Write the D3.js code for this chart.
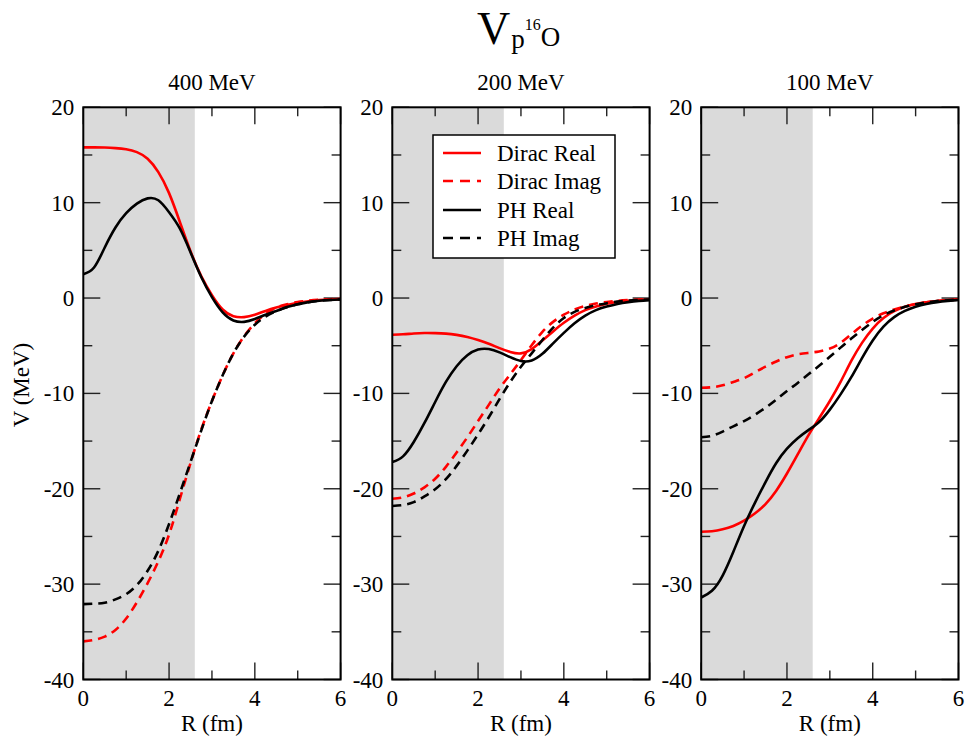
<!DOCTYPE html>
<html>
<head>
<meta charset="utf-8">
<script src="https://cdn.jsdelivr.net/npm/d3@7"></script>
<style>
  html, body { margin: 0; padding: 0; background: #fff; }
  svg text { font-family: "Liberation Serif", "Times New Roman", Times, "DejaVu Serif", serif; }
</style>
</head>
<body>
<svg id="chart" width="969" height="742"></svg>
<script>
// Radial grid (fm) shared by all curves
const R = [0, 0.25, 0.5, 0.75, 1.0, 1.25, 1.5, 1.75, 2.0, 2.25, 2.5, 2.75, 3.0,
           3.25, 3.5, 3.75, 4.0, 4.25, 4.5, 4.75, 5.0, 5.25, 5.5, 5.75, 6.0];

const energies = ["400 MeV", "200 MeV", "100 MeV"];

// 400 MeV
const diracReal400 = [15.8, 15.8, 15.78, 15.72, 15.6, 15.3, 14.6, 13.2, 11.0, 8.0, 4.9, 2.3, 0.3,
                      -1.2, -1.9, -2.0, -1.75, -1.35, -1.0, -0.73, -0.5, -0.33, -0.22, -0.15, -0.1];
const diracImag400 = [-36.0, -35.85, -35.5, -34.8, -33.6, -31.9, -29.9, -27.6, -24.8, -21.1, -17.3, -13.8, -10.8,
                      -8.1, -5.8, -4.0, -2.65, -1.65, -1.0, -0.65, -0.42, -0.28, -0.19, -0.13, -0.09];
const phReal400    = [2.5, 3.2, 5.3, 7.4, 8.9, 9.9, 10.45, 10.25, 9.0, 7.3, 4.8, 2.2, 0.1,
                      -1.5, -2.35, -2.5, -2.2, -1.75, -1.35, -0.95, -0.65, -0.43, -0.29, -0.2, -0.15];
const phImag400    = [-32.1, -32.05, -31.95, -31.6, -31.05, -30.1, -28.6, -26.5, -23.7, -20.5, -17.2, -13.9, -10.8,
                      -8.1, -5.8, -4.05, -2.8, -1.95, -1.38, -0.97, -0.66, -0.44, -0.29, -0.2, -0.15];

// 200 MeV
const diracReal200 = [-3.85, -3.8, -3.72, -3.67, -3.68, -3.73, -3.86, -4.08, -4.4, -4.8, -5.25, -5.65, -5.8,
                      -5.35, -4.45, -3.5, -2.6, -1.85, -1.27, -0.88, -0.6, -0.42, -0.3, -0.21, -0.15];
const diracImag200 = [-21.05, -20.9, -20.5, -19.85, -18.95, -17.7, -16.2, -14.6, -12.9, -11.2, -9.5, -8.0, -6.5,
                      -4.95, -3.55, -2.5, -1.75, -1.2, -0.83, -0.58, -0.42, -0.3, -0.22, -0.16, -0.12];
const phReal200    = [-17.2, -16.6, -15.1, -13.1, -10.9, -8.8, -7.15, -6.0, -5.4, -5.35, -5.7, -6.2, -6.6,
                      -6.55, -5.85, -4.75, -3.65, -2.65, -1.85, -1.27, -0.9, -0.62, -0.43, -0.3, -0.22];
const phImag200    = [-21.8, -21.7, -21.4, -20.8, -20.05, -19.0, -17.6, -16.0, -14.3, -12.5, -10.6, -8.8, -7.2,
                      -5.8, -4.4, -3.1, -2.1, -1.45, -1.05, -0.75, -0.55, -0.38, -0.27, -0.2, -0.15];

// 100 MeV
const diracReal100 = [-24.5, -24.45, -24.25, -23.9, -23.35, -22.6, -21.6, -20.2, -18.4, -16.4, -14.4, -12.6, -10.8,
                      -8.8, -6.6, -4.7, -3.2, -2.1, -1.38, -0.92, -0.63, -0.44, -0.31, -0.22, -0.16];
const diracImag100 = [-9.4, -9.35, -9.15, -8.8, -8.4, -7.8, -7.2, -6.65, -6.2, -5.9, -5.75, -5.6, -5.3,
                      -4.7, -3.8, -2.9, -2.15, -1.6, -1.2, -0.88, -0.63, -0.45, -0.32, -0.22, -0.16];
const phReal100    = [-31.4, -30.7, -29.1, -26.6, -23.9, -21.5, -19.3, -17.3, -15.8, -14.7, -13.85, -13.0, -11.7,
                      -10.1, -8.3, -6.3, -4.45, -3.0, -2.0, -1.35, -0.92, -0.63, -0.43, -0.3, -0.2];
const phImag100    = [-14.6, -14.45, -14.0, -13.45, -12.9, -12.25, -11.5, -10.65, -9.75, -8.9, -8.0, -7.1, -6.15,
                      -5.2, -4.25, -3.35, -2.5, -1.8, -1.3, -0.92, -0.65, -0.46, -0.32, -0.23, -0.17];

// Shaded interior region (fm)
const shadeMax = 2.6;

const seriesNames = ["Dirac Real", "Dirac Imag", "PH Real", "PH Imag"];
const seriesColors = ["#ff0000", "#ff0000", "#000000", "#000000"];
const seriesDashed = [false, true, false, true];

const yMajorTicks = [-40, -30, -20, -10, 0, 10, 20];
const yMinorTicks = [-35, -25, -15, -5, 5, 15];
const xMajorTicks = [0, 2, 4, 6];
const xMinorTicks = [1, 3, 5];

const panelData = [
  [diracReal400, diracImag400, phReal400, phImag400],
  [diracReal200, diracImag200, phReal200, phImag200],
  [diracReal100, diracImag100, phReal100, phImag100]
];

// Layout
const svg = d3.select("#chart");
const panelLefts = [83.3, 392.3, 701.2];
const panelW = 257.3;
const plotTop = 107.3, plotBottom = 679.5;
const fontSerif = "'Liberation Serif', 'Times New Roman', serif";

const y = d3.scaleLinear().domain([-40, 20]).range([plotBottom, plotTop]);

panelData.forEach((series, p) => {
  const x = d3.scaleLinear().domain([0, 6]).range([panelLefts[p], panelLefts[p] + panelW]);
  const g = svg.append("g");

  // shaded region
  g.append("rect")
    .attr("x", x(0)).attr("y", plotTop)
    .attr("width", x(shadeMax) - x(0)).attr("height", plotBottom - plotTop)
    .attr("fill", "#dadada");

  // ticks (inside, mirrored)
  const tk = g.append("g").attr("stroke", "#222").attr("stroke-width", 1.4);
  const majL = 17, minL = 9;
  yMajorTicks.forEach(v => {
    tk.append("line").attr("x1", x(0)).attr("x2", x(0) + majL).attr("y1", y(v)).attr("y2", y(v));
    tk.append("line").attr("x1", x(6)).attr("x2", x(6) - majL).attr("y1", y(v)).attr("y2", y(v));
  });
  yMinorTicks.forEach(v => {
    tk.append("line").attr("x1", x(0)).attr("x2", x(0) + minL).attr("y1", y(v)).attr("y2", y(v));
    tk.append("line").attr("x1", x(6)).attr("x2", x(6) - minL).attr("y1", y(v)).attr("y2", y(v));
  });
  xMajorTicks.forEach(v => {
    tk.append("line").attr("x1", x(v)).attr("x2", x(v)).attr("y1", plotBottom).attr("y2", plotBottom - majL);
    tk.append("line").attr("x1", x(v)).attr("x2", x(v)).attr("y1", plotTop).attr("y2", plotTop + majL);
  });
  xMinorTicks.forEach(v => {
    tk.append("line").attr("x1", x(v)).attr("x2", x(v)).attr("y1", plotBottom).attr("y2", plotBottom - minL);
    tk.append("line").attr("x1", x(v)).attr("x2", x(v)).attr("y1", plotTop).attr("y2", plotTop + minL);
  });

  // curves
  const line = d3.line()
    .x((d, i) => x(R[i]))
    .y(d => y(d))
    .curve(d3.curveNatural);

  series.forEach((vals, s) => {
    g.append("path")
      .datum(vals)
      .attr("d", line)
      .attr("fill", "none")
      .attr("stroke", seriesColors[s])
      .attr("stroke-width", 2.6)
      .attr("stroke-dasharray", seriesDashed[s] ? "9,6" : null);
  });

  // frame
  g.append("rect")
    .attr("x", x(0)).attr("y", plotTop)
    .attr("width", panelW).attr("height", plotBottom - plotTop)
    .attr("fill", "none").attr("stroke", "#000").attr("stroke-width", 2);

  // tick labels
  yMajorTicks.forEach(v => {
    g.append("text")
      .attr("x", x(0) - 9).attr("y", y(v) + 8)
      .attr("text-anchor", "end")
      .attr("font-family", fontSerif)
      .attr("font-size", 23)
      .text(v);
  });
  xMajorTicks.forEach(v => {
    g.append("text")
      .attr("x", x(v)).attr("y", plotBottom + 26)
      .attr("text-anchor", "middle")
      .attr("font-family", fontSerif)
      .attr("font-size", 23)
      .text(v);
  });

  // axis title and panel title
  g.append("text")
    .attr("x", x(3)).attr("y", plotBottom + 51)
    .attr("text-anchor", "middle")
    .attr("font-family", fontSerif)
    .attr("font-size", 23)
    .text("R (fm)");
  g.append("text")
    .attr("x", x(3)).attr("y", 90)
    .attr("text-anchor", "middle")
    .attr("font-family", fontSerif)
    .attr("font-size", 23)
    .text(energies[p]);

  // legend in the middle panel
  if (p === 1) {
    const lg = svg.append("g");
    lg.append("rect")
      .attr("x", 433).attr("y", 135).attr("width", 182).attr("height", 123)
      .attr("fill", "#fff").attr("stroke", "#000").attr("stroke-width", 1.5);
    const rows = [153, 181, 210, 238];
    seriesNames.forEach((name, s) => {
      lg.append("line")
        .attr("x1", 443).attr("x2", 481)
        .attr("y1", rows[s]).attr("y2", rows[s])
        .attr("stroke", seriesColors[s]).attr("stroke-width", 2.6)
        .attr("stroke-dasharray", seriesDashed[s] ? "10,7" : null);
      lg.append("text")
        .attr("x", 497).attr("y", rows[s] + 8)
        .attr("font-family", fontSerif)
        .attr("font-size", 23)
        .text(name);
    });
  }
});

// y-axis title
svg.append("text")
  .attr("transform", "translate(29,385) rotate(-90)")
  .attr("text-anchor", "middle")
  .attr("font-family", fontSerif)
  .attr("font-size", 23)
  .text("V (MeV)");

// main title V_{p 16O}
const title = svg.append("text").attr("x", 477).attr("y", 44).attr("font-family", fontSerif);
title.append("tspan").attr("font-size", 46).text("V");
title.append("tspan").attr("font-size", 27).attr("dy", 4).attr("dx", 1).text("p");
title.append("tspan").attr("font-size", 16).attr("dy", -18).text("16");
title.append("tspan").attr("font-size", 27).attr("dy", 16).text("O");
</script>
</body>
</html>
